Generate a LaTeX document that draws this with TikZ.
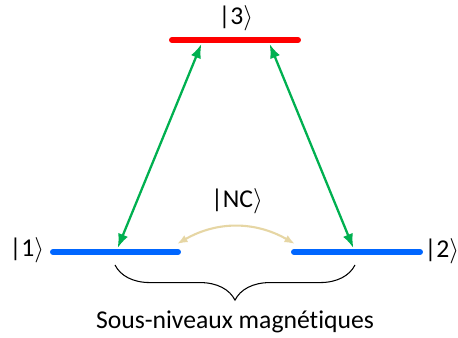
\documentclass[tikz,border=0pt]{standalone}
\usepackage{fontspec}
\setmainfont{Carlito}[Ligatures=CommonOff]
\usetikzlibrary{arrows.meta,positioning,decorations.pathreplacing}

\definecolor{ketred}{RGB}{255,0,0}
\definecolor{ketblue}{RGB}{0,102,255}
\definecolor{ketgreen}{RGB}{0,176,80}
\definecolor{ketbeige}{RGB}{230,214,164}

\begin{document}
\begin{tikzpicture}[
    x=0.02cm, y=-0.02cm,
    every node/.style={font=\fontsize{14.6}{17}\selectfont},
    level/.style={line width=3.4pt, line cap=round},
    arrow/.style={{Latex[length=8pt,width=6pt]}-{Latex[length=8pt,width=6pt]}, line width=1.3pt, ketgreen, shorten <=2.5pt, shorten >=2.5pt},
    nc/.style={{Latex[length=6pt,width=4.5pt]}-{Latex[length=6pt,width=4.5pt]}, line width=1.2pt, ketbeige}
]
\useasboundingbox (0,0) rectangle (458,338);

% Levels
\coordinate (L3a) at (172,40);
\coordinate (L3b) at (298,40);
\coordinate (L1a) at (53,252);
\coordinate (L1b) at (178,252);
\coordinate (L2a) at (294,252);
\coordinate (L2b) at (420,252);
\draw[level, ketred] (L3a) -- (L3b);
\draw[level, ketblue] (L1a) -- (L1b);
\draw[level, ketblue] (L2a) -- (L2b);

% Labels
\node (K3) at (236,18) {|3$\rangle$};
\node (K1) at (27,250) {|1$\rangle$};
\node (K2) at (442,251) {|2$\rangle$};
\node (KNC) at (237,201) {|NC$\rangle$};

% Transitions
\coordinate (T3l) at (203,40);
\coordinate (T1) at (116,252);
\coordinate (T3r) at (268,40);
\coordinate (T2) at (355,252);
\draw[arrow] (T3l) -- (T1);
\draw[arrow] (T3r) -- (T2);

% Coherence
\coordinate (C1) at (177,244);
\coordinate (C2) at (295,244);
\draw[nc] (C1) to[bend left=30] (C2);

% Sublevels
\coordinate (B1) at (115,265);
\coordinate (B2) at (355,265);
\draw[decorate, decoration={brace, mirror, amplitude=20pt}, line width=0.6pt] (B1) -- (B2);
\node (sub) at (235,322) {Sous-niveaux magnétiques};

\end{tikzpicture}
\end{document}
